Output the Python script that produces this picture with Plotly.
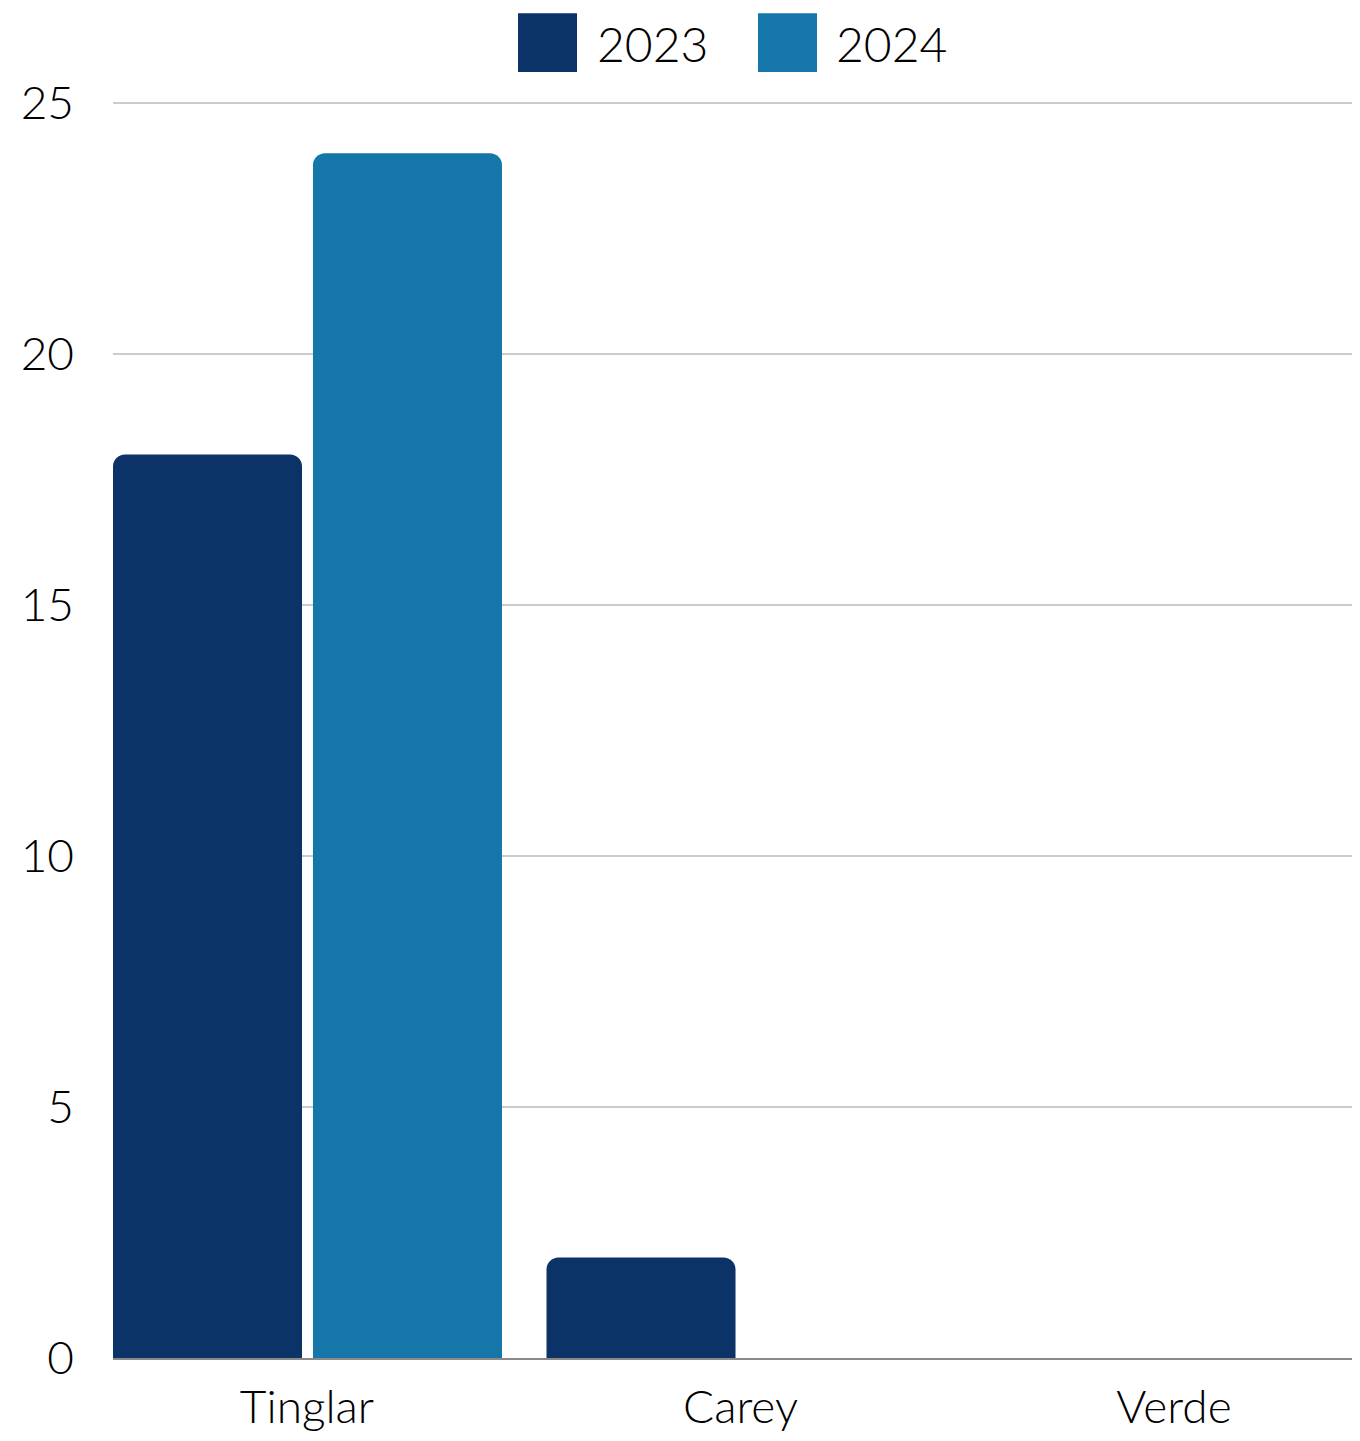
import plotly.graph_objects as go

categories = ["Tinglar", "Carey", "Verde"]
series_names = ["2023", "2024"]
values_2023 = [18, 2, 0]
values_2024 = [24, 0, 0]
colors = ["#0b3368", "#1576a9"]
y_ticks = [0, 5, 10, 15, 20, 25]

FONT = "Lato, 'Open Sans', sans-serif"
WEIGHT = 300

fig = go.Figure()
fig.add_trace(go.Bar(name=series_names[0], x=categories, y=values_2023,
                     marker=dict(color=colors[0], line=dict(width=0)),
                     width=0.436, offset=-0.4475, showlegend=False))
fig.add_trace(go.Bar(name=series_names[1], x=categories, y=values_2024,
                     marker=dict(color=colors[1], line=dict(width=0)),
                     width=0.436, offset=0.0138, showlegend=False))

# page body has an 8px margin; compensate so the plot lands where the reference has it
OFF = 8
W, H = 1352, 1425
PLOT_LEFT, PLOT_RIGHT, PLOT_TOP, PLOT_BOTTOM = 113, 1360, 95, 1360  # page pixels
L = PLOT_LEFT - OFF
R = W - (PLOT_RIGHT - OFF)
T = PLOT_TOP - OFF
B = H - (PLOT_BOTTOM - OFF)
pw, ph = W - L - R, H - T - B
y_max = 25 * ph / (1360 - 103)
x_left = -0.4475
x_right = x_left + (PLOT_RIGHT - PLOT_LEFT) / 433.5

def px(x):
    return (x - OFF - L) / pw

def py(y):
    return (H - B - (y - OFF)) / ph

# custom legend (large squares)
legend_items = [(518, 577, 597), (758, 817, 836)]
for (x0, x1, tx), name, c in zip(legend_items, series_names, colors):
    fig.add_shape(type="rect", xref="paper", yref="paper",
                  x0=px(x0), x1=px(x1), y0=py(72), y1=py(13),
                  fillcolor=c, line=dict(width=0))
    fig.add_annotation(xref="paper", yref="paper", x=px(tx - 2), y=py(43),
                       text=name, showarrow=False, xanchor="left", yanchor="middle",
                       font=dict(size=48, color="#000000", family=FONT, weight=WEIGHT))

fig.update_layout(
    width=W, height=H,
    margin=dict(l=L, r=R, t=T, b=B),
    paper_bgcolor="white", plot_bgcolor="white",
    barmode="group", barcornerradius=12,
    font=dict(family=FONT, color="#000000", weight=WEIGHT),
    showlegend=False,
)
fig.update_xaxes(range=[x_left, x_right], showgrid=False, showline=True,
                 linecolor="#8a8a8a", linewidth=2, ticks="",
                 tickfont=dict(size=46, family=FONT, weight=WEIGHT), ticklabelstandoff=8)
fig.update_yaxes(range=[0, y_max], tickvals=y_ticks, showgrid=True, gridcolor="#cccccc",
                 gridwidth=1.5, zeroline=False, showline=False, ticks="",
                 tickfont=dict(size=46, family=FONT, weight=WEIGHT), ticklabelstandoff=38)

fig.write_html("out.html")
